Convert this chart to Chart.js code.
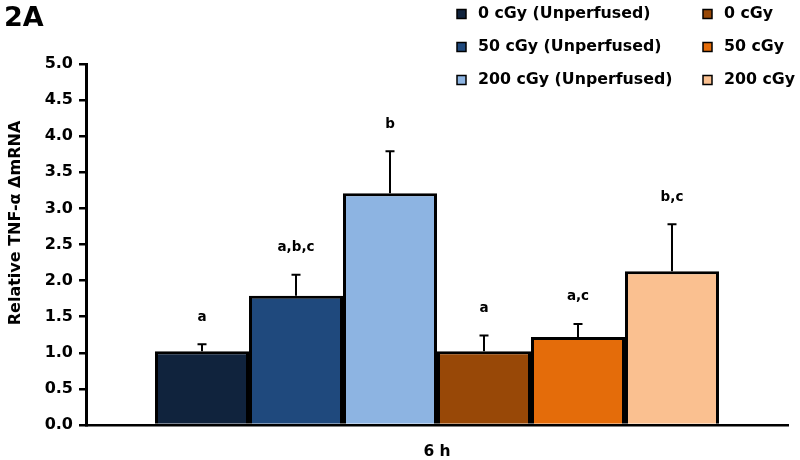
<!DOCTYPE html>
<html>
<head>
<meta charset="utf-8">
<script src="https://cdn.jsdelivr.net/npm/chart.js@4/dist/chart.umd.min.js"></script>
<style>
  html, body { margin: 0; padding: 0; background: #fff; }
  #wrap { width: 800px; height: 460px; position: relative; }
</style>
</head>
<body>
<div id="wrap"><canvas id="c" width="800" height="460"></canvas></div>
<script>
const categories = ['6 h'];
const seriesLabels = ['0 cGy (Unperfused)', '50 cGy (Unperfused)', '200 cGy (Unperfused)', '0 cGy', '50 cGy', '200 cGy'];
const seriesValues = [1.02, 1.79, 3.21, 1.02, 1.22, 2.13];
const seriesErrors = [0.10, 0.29, 0.58, 0.22, 0.18, 0.65];
const significance = ['a', 'a,b,c', 'b', 'a', 'a,c', 'b,c'];
const seriesColors = ['#10233d', '#1f497d', '#8db4e2', '#984807', '#e46c0a', '#fac090'];
const yTickMin = 0, yTickMax = 5, yTickStep = 0.5;
const figureLabel = '2A';
const yTitle = 'Relative TNF-\u03b1 \u0394mRNA';

const FONT = "'DejaVu Sans', Verdana, sans-serif";

const datasets = seriesLabels.map((lab, i) => ({
  label: lab,
  data: [seriesValues[i]],
  errors: [seriesErrors[i]],
  sig: significance[i],
  backgroundColor: seriesColors[i],
  borderColor: '#000',
  borderWidth: 3,
  borderSkipped: 'bottom'
}));

const extrasPlugin = {
  id: 'extras',
  afterDatasetsDraw(chart) {
    const ctx = chart.ctx;
    const y = chart.scales.y;
    ctx.save();
    chart.data.datasets.forEach((ds, i) => {
      const meta = chart.getDatasetMeta(i);
      meta.data.forEach((bar, j) => {
        const v = ds.data[j], e = ds.errors[j];
        const yTop = y.getPixelForValue(v + e);
        const yBar = y.getPixelForValue(v);
        ctx.strokeStyle = '#000';
        ctx.lineWidth = 2;
        ctx.beginPath();
        ctx.moveTo(bar.x, yBar);
        ctx.lineTo(bar.x, yTop);
        ctx.moveTo(bar.x - 4.5, yTop);
        ctx.lineTo(bar.x + 4.5, yTop);
        ctx.stroke();
        ctx.fillStyle = '#000';
        ctx.font = 'bold 13.5px ' + FONT;
        ctx.textAlign = 'center';
        ctx.textBaseline = 'middle';
        ctx.fillText(ds.sig, bar.x, yTop - 27);
      });
    });
    ctx.restore();
  },
  afterDraw(chart) {
    const ctx = chart.ctx;
    ctx.save();
    ctx.fillStyle = '#000';
    ctx.font = 'bold 27px ' + FONT;
    ctx.textAlign = 'left';
    ctx.textBaseline = 'alphabetic';
    ctx.fillText(figureLabel, 4, 26);
    ctx.save();
    ctx.translate(16, 223);
    ctx.rotate(-Math.PI / 2);
    ctx.font = 'bold 16px ' + FONT;
    ctx.textAlign = 'center';
    ctx.textBaseline = 'middle';
    ctx.fillText(yTitle, 0, 0);
    ctx.restore();
    const colX = [457, 703];
    const rowY = [14, 47, 80];
    ctx.font = 'bold 15.8px ' + FONT;
    ctx.textBaseline = 'middle';
    chart.data.datasets.forEach((ds, i) => {
      const col = Math.floor(i / 3), row = i % 3;
      const bx = colX[col], by = rowY[row];
      ctx.fillStyle = ds.backgroundColor;
      ctx.fillRect(bx, by - 4.5, 9, 9);
      ctx.strokeStyle = '#000';
      ctx.lineWidth = 1.5;
      ctx.strokeRect(bx, by - 4.5, 9, 9);
      ctx.fillStyle = '#000';
      ctx.textAlign = 'left';
      ctx.fillText(ds.label, bx + 21, by);
    });
    ctx.restore();
  }
};

new Chart(document.getElementById('c'), {
  type: 'bar',
  data: { labels: categories, datasets },
  plugins: [extrasPlugin],
  options: {
    responsive: false,
    animation: false,
    devicePixelRatio: 1,
    layout: { padding: { top: 64, right: 12, left: 0, bottom: 0 } },
    plugins: { legend: { display: false }, tooltip: { enabled: false } },
    datasets: { bar: { barPercentage: 1.0, categoryPercentage: 0.8034 } },
    scales: {
      x: {
        grid: { display: false },
        border: { display: true, color: '#000', width: 2.5 },
        ticks: { color: '#000', font: { family: FONT, size: 15.5, weight: 'bold' }, padding: 10 },
        afterFit(s) { s.height = 35; }
      },
      y: {
        min: yTickMin, max: yTickMax,
        ticks: {
          stepSize: yTickStep,
          color: '#000',
          font: { family: FONT, size: 16, weight: 'bold' },
          padding: 6,
          callback: v => Number(v).toFixed(1)
        },
        grid: { display: true, drawOnChartArea: false, drawTicks: true, tickLength: 7, color: '#000', lineWidth: 2.5 },
        border: { display: true, color: '#000', width: 3 },
        afterFit(s) { s.width = 86; }
      }
    }
  }
});
</script>
</body>
</html>
